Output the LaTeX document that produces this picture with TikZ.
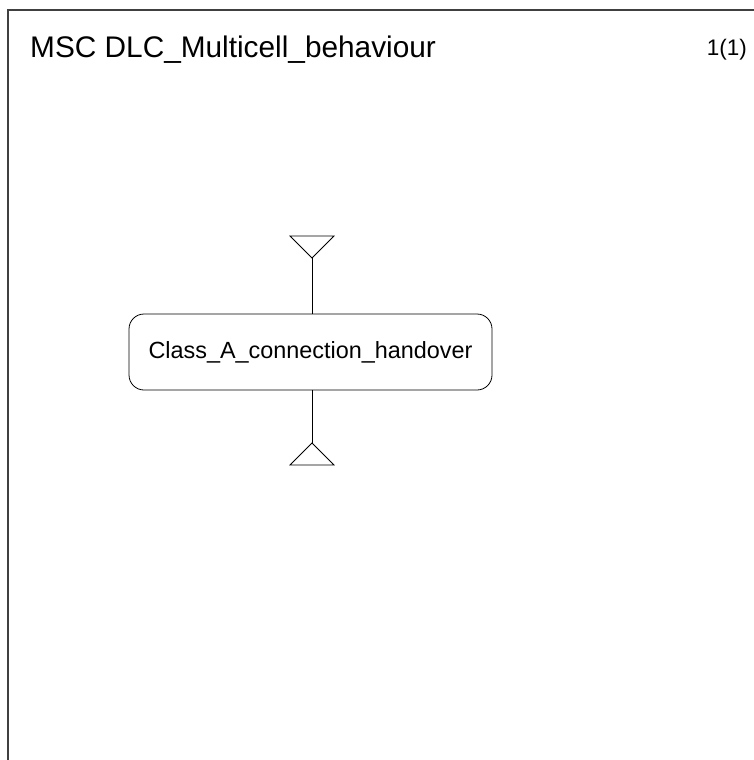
\documentclass[tikz,border=0pt]{standalone}
\usepackage{fontspec}
\setmainfont{Liberation Sans}
\begin{document}
\begin{tikzpicture}[x=1pt,y=-1pt,
  frame/.style={draw=black!75, line width=1.2pt},
  line/.style={draw=black, line width=0.8pt},
  refbox/.style={draw=black, line width=0.8pt, rounded corners=15pt, minimum width=363pt, minimum height=76pt, inner sep=0pt, font=\fontsize{23.4}{27}\selectfont},
  tri/.style={draw=black, line width=0.8pt}]
\useasboundingbox (0,0) rectangle (754,760);
\draw[frame] (8,772) -- (8,10) -- (766,10);
\node[anchor=base west, inner sep=0pt, font=\fontsize{29.8}{34}\selectfont] (title) at (30,57) {MSC DLC\_Multicell\_behaviour};
\node[anchor=base east, inner sep=0pt, font=\fontsize{22.5}{26}\selectfont] (page) at (747,56) {1(1)};
\node[refbox] (ref) at (310.5,352) {Class\_A\_connection\_handover};
\coordinate (ttip) at (312,258);
\coordinate (btip) at (312,443);
\draw[tri] (290,236) -- (334,236) -- (ttip) -- cycle;
\draw[tri] (290,465) -- (334,465) -- (btip) -- cycle;
\draw[line] (ttip) -- (ref.north -| ttip);
\draw[line] (ref.south -| btip) -- (btip);
\end{tikzpicture}
\end{document}
